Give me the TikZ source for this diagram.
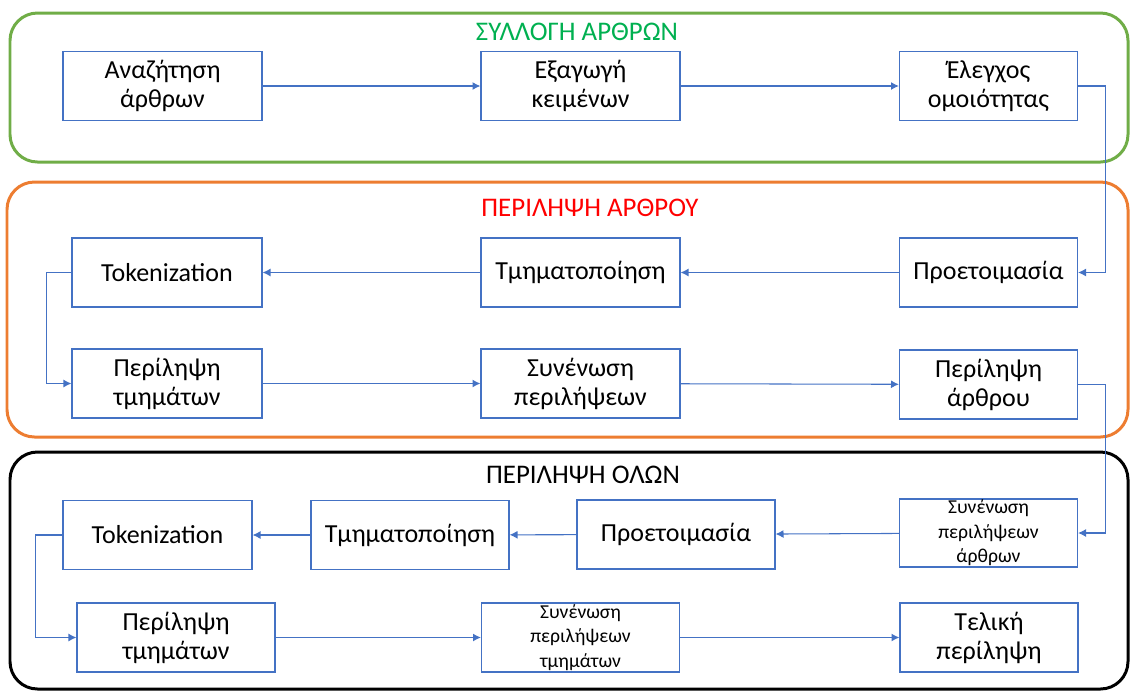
\documentclass[tikz,border=0pt]{standalone}
\usepackage{fontspec}
\setmainfont{Carlito}
\usetikzlibrary{arrows.meta}
\definecolor{A1}{HTML}{4472C4}
\definecolor{G1}{HTML}{70AD47}
\definecolor{G2}{HTML}{00B050}
\definecolor{O1}{HTML}{ED7D31}

\begin{document}
\begin{tikzpicture}[x=0.02cm,y=-0.02cm,
    box/.style={draw=A1,line width=0.7pt,inner sep=0pt,align=center,minimum width=3.98cm,minimum height=1.38cm,font=\fontsize{14.8}{16.5}\selectfont},
    rbox/.style={box,minimum width=3.56cm},
    small/.style={font=\fontsize{11.2}{13.9}\selectfont},
    link/.style={draw=A1,line width=0.6pt,-{Latex[length=4.5pt,width=4.5pt]}},
    panel/.style={line width=1.7pt,rounded corners=0.55cm},
    title/.style={font=\fontsize{15.3}{18}\selectfont}]
    \useasboundingbox (0,0) rectangle (1130,691);
    % panels
    \draw [panel,G1] (10,13) rectangle (1128,162);
    \draw [panel,O1] (7,182) rectangle (1128,437);
    \draw [panel,black] (10,452) rectangle (1128,689);
    \node [title,text=G2] (t1) at (577,32) {ΣΥΛΛΟΓΗ ΑΡΘΡΩΝ};
    \node [title,text=red] (t2) at (590,208) {ΠΕΡΙΛΗΨΗ ΑΡΘΡΟΥ};
    \node [title] (t3) at (583,475) {ΠΕΡΙΛΗΨΗ ΟΛΩΝ};
    % first panel
    \node [box] (a1) at (162.5,86) {Αναζήτηση\\άρθρων};
    \node [box] (a2) at (580.5,86) {Εξαγωγή\\κειμένων};
    \node [rbox] (a3) at (988.5,86) {Έλεγχος\\ομοιότητας};
    % second panel
    \node [rbox] (b1) at (988.5,272.5) {Προετοιμασία};
    \node [box] (b2) at (580.5,272.5) {Τμηματοποίηση};
    \node [box,minimum width=3.8cm] (b3) at (167,272.5) {Tokenization};
    \node [box,minimum width=3.8cm] (b4) at (167,383.5) {Περίληψη\\τμημάτων};
    \node [box] (b5) at (580.5,383.5) {Συνένωση\\περιλήψεων};
    \node [rbox] (b6) at (988.5,384.5) {Περίληψη\\άρθρου};
    % third panel
    \node [rbox,small,minimum height=1.36cm] (c1) at (988.5,533) {Συνένωση\\περιλήψεων\\άρθρων};
    \node [box,minimum width=3.96cm] (c2) at (676,534.5) {Προετοιμασία};
    \node [box,minimum width=3.96cm] (c3) at (410,535) {Τμηματοποίηση};
    \node [box,minimum width=3.78cm] (c4) at (157.5,535) {Tokenization};
    \node [box,minimum width=3.96cm] (c5) at (176,637.5) {Περίληψη\\τμημάτων};
    \node [box,small,minimum width=3.96cm] (c6) at (580.5,637.5) {Συνένωση\\περιλήψεων\\τμημάτων};
    \node [rbox] (c7) at (989,637.5) {Τελική\\περίληψη};
    % connectors
    \draw [link] (a1) -- (a2);
    \draw [link] (a2) -- (a3);
    \draw [link] (a3.east) -- ++(27,0) |- (b1);
    \draw [link] (b1) -- (b2);
    \draw [link] (b2) -- (b3);
    \draw [link] (b3.west) -- ++(-25,0) |- (b4);
    \draw [link] (b4) -- (b5);
    \draw [link] (b5) -- (b6);
    \draw [link] (b6.east) -- ++(27,0) |- (c1);
    \draw [link] (c1) -- (c2);
    \draw [link] (c2) -- (c3);
    \draw [link] (c3) -- (c4);
    \draw [link] (c4.west) -- ++(-27,0) |- (c5);
    \draw [link] (c5) -- (c6);
    \draw [link] (c6) -- (c7);
\end{tikzpicture}
\end{document}
